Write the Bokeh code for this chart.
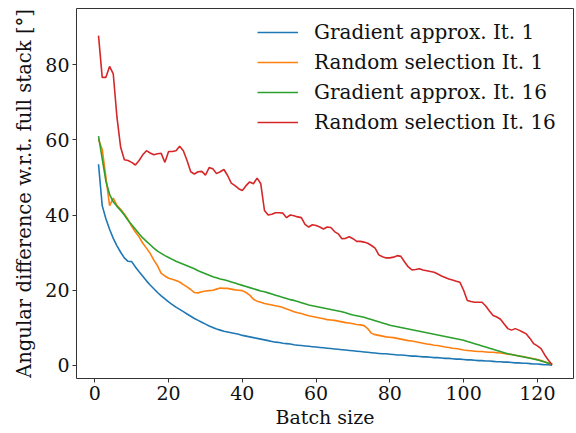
from bokeh.plotting import figure
from bokeh.models import Range1d, Legend, LegendItem, FixedTicker
from bokeh.embed import file_html
from bokeh.resources import INLINE

batch_size = list(range(1, 125))

grad_it1 = [53.5, 42.5, 39.0, 36.2, 33.8, 31.8, 30.1, 28.6, 27.7, 27.6,
            26.2, 24.9, 23.7, 22.5, 21.4, 20.4, 19.4, 18.5, 17.7, 16.9,
            16.2, 15.5, 14.9, 14.3, 13.7, 13.1, 12.5, 12.0, 11.5, 11.0,
            10.5, 10.1, 9.7, 9.4, 9.1, 8.9, 8.7, 8.5, 8.3, 8.0,
            7.8, 7.6, 7.4, 7.2, 7.0, 6.8, 6.6, 6.4, 6.2, 6.1,
            5.9, 5.8, 5.7, 5.5, 5.4, 5.3, 5.2, 5.1, 5.0, 4.9,
            4.8, 4.7, 4.6, 4.5, 4.4, 4.3, 4.2, 4.1, 4.0, 3.9,
            3.8, 3.7, 3.6, 3.5, 3.4, 3.3, 3.2, 3.1, 3.1, 3.0,
            2.9, 2.8, 2.8, 2.7, 2.6, 2.5, 2.5, 2.4, 2.3, 2.3,
            2.2, 2.1, 2.1, 2.0, 1.9, 1.9, 1.8, 1.7, 1.7, 1.6,
            1.5, 1.5, 1.4, 1.3, 1.3, 1.2, 1.2, 1.1, 1.0, 1.0,
            0.9, 0.9, 0.8, 0.7, 0.7, 0.6, 0.6, 0.5, 0.4, 0.4,
            0.3, 0.2, 0.2, 0.1]

rand_it1 = [60.0, 57.5, 50.0, 42.5, 44.5, 42.5, 41.5, 40.3, 38.8, 37.0,
            35.5, 34.2, 32.5, 31.2, 29.8, 28.0, 26.5, 24.5, 23.8, 23.2,
            22.9, 22.6, 22.2, 21.5, 20.9, 20.2, 19.4, 19.3, 19.6, 19.8,
            19.9, 20.0, 20.3, 20.6, 20.5, 20.5, 20.3, 20.1, 20.0, 19.9,
            19.4, 18.7, 17.6, 17.1, 16.8, 16.5, 16.3, 16.1, 15.9, 15.7,
            15.4, 15.0, 14.7, 14.3, 14.0, 13.8, 13.5, 13.2, 13.0, 12.8,
            12.6, 12.4, 12.2, 12.1, 12.0, 11.8, 11.6, 11.4, 11.3, 11.1,
            10.9, 10.8, 10.6, 9.8, 8.6, 8.2, 8.0, 7.8, 7.6, 7.5,
            7.4, 7.2, 7.0, 6.8, 6.6, 6.5, 6.3, 6.1, 5.9, 5.7,
            5.6, 5.4, 5.3, 5.1, 4.9, 4.8, 4.6, 4.5, 4.3, 4.1,
            4.0, 3.9, 3.8, 3.7, 3.7, 3.6, 3.5, 3.5, 3.4, 3.3,
            3.2, 3.0, 2.9, 2.7, 2.5, 2.4, 2.2, 2.0, 1.8, 1.6,
            1.3, 1.0, 0.6, 0.3]

grad_it16 = [61.0, 55.0, 49.0, 45.5, 43.5, 42.3, 41.2, 40.0, 38.6, 37.4,
             36.2, 35.0, 33.9, 33.0, 32.1, 31.2, 30.4, 29.8, 29.2, 28.7,
             28.2, 27.7, 27.3, 26.9, 26.5, 26.1, 25.7, 25.2, 24.8, 24.4,
             24.0, 23.6, 23.3, 23.0, 22.8, 22.5, 22.2, 21.9, 21.6, 21.3,
             21.0, 20.7, 20.4, 20.1, 19.8, 19.6, 19.3, 19.0, 18.7, 18.4,
             18.1, 17.8, 17.5, 17.3, 17.0, 16.7, 16.4, 16.1, 15.9, 15.7,
             15.5, 15.3, 15.1, 14.9, 14.7, 14.5, 14.3, 14.0, 13.7, 13.4,
             13.2, 13.0, 12.8, 12.5, 12.2, 11.9, 11.6, 11.3, 11.0, 10.7,
             10.5, 10.3, 10.1, 9.9, 9.7, 9.5, 9.3, 9.1, 8.9, 8.7,
             8.5, 8.3, 8.1, 7.9, 7.7, 7.5, 7.3, 7.1, 6.9, 6.7,
             6.4, 6.1, 5.8, 5.5, 5.2, 4.9, 4.6, 4.3, 4.0, 3.7,
             3.4, 3.1, 2.9, 2.7, 2.5, 2.3, 2.1, 1.9, 1.7, 1.5,
             1.2, 0.9, 0.6, 0.3]

rand_it16 = [87.7, 76.6, 76.6, 79.5, 77.5, 66.0, 58.0, 54.7, 54.5, 54.0,
             53.3, 54.5, 56.0, 57.1, 56.5, 56.0, 56.3, 56.4, 54.0, 56.9,
             56.9, 57.1, 58.3, 57.1, 54.5, 51.5, 50.9, 51.5, 51.6, 50.6,
             52.6, 52.3, 51.0, 51.5, 52.1, 50.5, 48.5, 47.8, 47.0, 46.5,
             47.8, 48.8, 48.3, 49.8, 48.3, 41.2, 40.0, 40.2, 40.6, 40.6,
             40.5, 39.3, 40.0, 39.8, 39.5, 39.3, 37.5, 36.8, 37.4, 37.2,
             36.8, 36.3, 36.8, 36.7, 35.6, 35.0, 33.7, 33.8, 34.2, 33.7,
             33.0, 33.0, 32.8, 32.5, 31.9, 31.2, 29.4, 28.9, 28.6, 28.6,
             28.8, 29.2, 29.0, 27.5, 26.2, 25.4, 25.5, 25.7, 25.4, 25.2,
             25.0, 24.8, 24.3, 23.8, 23.4, 23.0, 22.7, 22.4, 22.1, 20.0,
             17.3, 17.0, 16.8, 16.8, 16.8, 15.8, 14.5, 13.3, 12.9, 12.3,
             11.0, 9.8, 9.4, 9.8, 9.4, 8.9, 8.4, 7.2, 5.8, 5.2,
             4.5, 2.8, 1.4, 0.2]

labels = ["Gradient approx. It. 1", "Random selection It. 1",
          "Gradient approx. It. 16", "Random selection It. 16"]
colors = ["#1f77b4", "#ff7f0e", "#2ca02c", "#d62728"]
x_ticks = [0, 20, 40, 60, 80, 100, 120]
y_ticks = [0, 20, 40, 60, 80]

FONT = "DejaVu Serif"

p = figure(width=576, height=433, output_backend="svg", toolbar_location=None,
           x_range=Range1d(-4.97, 129.8), y_range=Range1d(-3.46, 94.9),
           min_border_left=76, min_border_right=3, min_border_top=8,
           min_border_bottom=55)

items = []
for ys, lab, col in zip([grad_it1, rand_it1, grad_it16, rand_it16], labels, colors):
    r = p.line(batch_size, ys, line_color=col, line_width=1.6)
    items.append(LegendItem(label=lab, renderers=[r]))

legend = Legend(items=items, location=(181, 244), border_line_color=None,
                background_fill_color="white", background_fill_alpha=0.8,
                label_text_font=FONT, label_text_font_size="20px",
                label_text_color="#111111",
                glyph_width=41, glyph_height=20, label_height=20,
                label_standoff=16, spacing=6, padding=7, margin=0)
p.add_layout(legend)

p.grid.visible = False
p.outline_line_color = "#333333"
p.outline_line_width = 1

for ax in (p.xaxis, p.yaxis):
    ax.axis_line_color = None
    ax.major_tick_in = 0
    ax.major_tick_out = 4
    ax.minor_tick_line_color = None
    ax.major_tick_line_color = "#333333"
    ax.major_label_text_font = FONT
    ax.major_label_text_font_size = "19px"
    ax.major_label_text_color = "#111111"
    ax.axis_label_text_font = FONT
    ax.axis_label_text_font_size = "19px"
    ax.axis_label_text_font_style = "normal"
    ax.axis_label_text_color = "#111111"
    ax.major_label_standoff = 3

p.yaxis.axis_label_text_font_size = "19.6px"
p.xaxis.ticker = FixedTicker(ticks=x_ticks)
p.yaxis.ticker = FixedTicker(ticks=y_ticks)
p.xaxis.axis_label = "Batch size"
p.yaxis.axis_label = "Angular difference w.r.t. full stack [°]"
p.xaxis.axis_label_standoff = 3
p.yaxis.axis_label_standoff = 6

open("out.html", "w").write(file_html(p, INLINE))
